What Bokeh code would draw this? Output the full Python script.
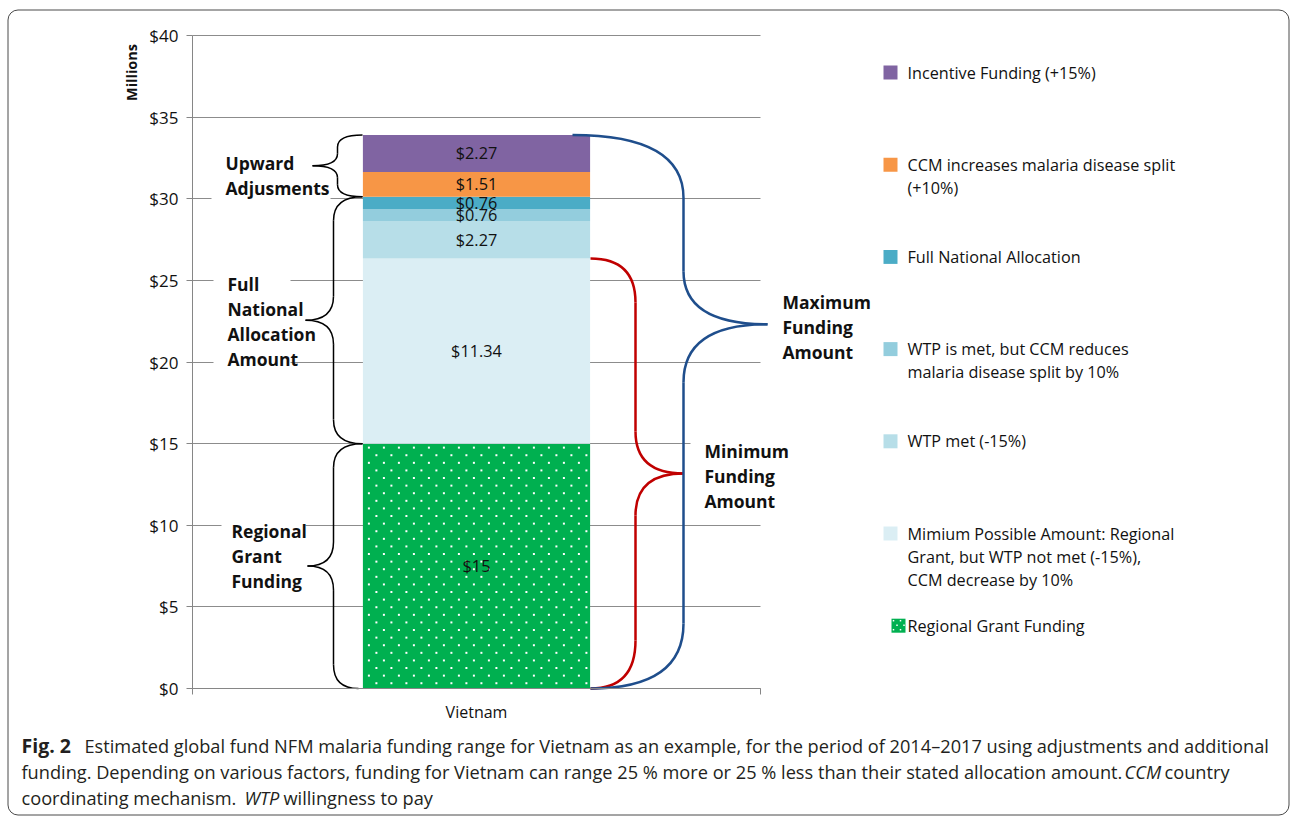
from bokeh.plotting import figure
from bokeh.models import Range1d, FixedTicker, BoxAnnotation, ColumnDataSource
from bokeh.core.properties import value
from bokeh.embed import file_html
from bokeh.resources import INLINE

# ---------------- data ----------------
category = ["Vietnam"]
segment_names = [
    "Regional Grant Funding",
    "Mimium Possible Amount: Regional\nGrant, but WTP not met (-15%),\nCCM decrease by 10%",
    "WTP met (-15%)",
    "WTP is met, but CCM reduces\nmalaria disease split by 10%",
    "Full National Allocation",
    "CCM increases malaria disease split\n(+10%)",
    "Incentive Funding (+15%)",
]
segment_values = [15, 11.34, 2.27, 0.76, 0.76, 1.51, 2.27]
segment_labels = ["$15", "$11.34", "$2.27", "$0.76", "$0.76", "$1.51", "$2.27"]
segment_colors = ["#00B050", "#DBEEF4", "#B7DEE8", "#93CDDD", "#4BACC6", "#F79646", "#8064A2"]
y_ticks = [0, 5, 10, 15, 20, 25, 30, 35, 40]
y_tick_labels = ["$0", "$5", "$10", "$15", "$20", "$25", "$30", "$35", "$40"]
y_axis_title = "Millions"

# brace annotations: (text, first segment, last segment)
brace_groups = [
    ("Upward\nAdjusments", 5, 6),
    ("Full\nNational\nAllocation\nAmount", 1, 4),
    ("Regional\nGrant\nFunding", 0, 0),
    ("Minimum\nFunding\nAmount", 0, 1),
    ("Maximum\nFunding\nAmount", 0, 6),
]

caption_lines = [
    [("Fig. 2", "bold", 21),
     ("Estimated global fund NFM malaria funding range for Vietnam as an example, for the period of 2014\u20132017 using adjustments and additional", "normal", 84)],
    [("funding. Depending on various factors, funding for Vietnam can range 25\u00a0% more or 25\u00a0% less than their stated allocation amount.", "normal", 21),
     ("CCM", "italic", 1124), ("country", "normal", 1164)],
    [("coordinating mechanism.", "normal", 21), ("WTP", "italic", 244), ("willingness to pay", "normal", 283)],
]

# ---------------- layout helpers (screen px -> data) ----------------
W, H = 1292, 816
X0, PX = 192.0, 568.0          # screen x of data 0, px per x unit
Y0, PY = 688.0, 653.0 / 40.0   # screen y of data 0, px per y unit
FONT = "Open Sans"
TXT = "#111111"


def xd(sx):
    return (sx - X0) / PX


def yd(sy):
    return (Y0 - sy) / PY


bottoms, tops = [], []
acc = 0.0
for v in segment_values:
    bottoms.append(acc)
    acc += v
    tops.append(acc)

p = figure(width=W, height=H, x_range=Range1d(xd(0), xd(W)), y_range=Range1d(yd(H), yd(0)),
           output_backend="svg", toolbar_location=None,
           min_border_left=0, min_border_right=0, min_border_top=0, min_border_bottom=0,
           outline_line_color=None, background_fill_color="white", border_fill_color="white")

# axes (drawn at data locations inside the frame)
p.xaxis.fixed_location = 0
p.xaxis.ticker = FixedTicker(ticks=[0.5], minor_ticks=[0, 1])
p.xaxis.major_label_overrides = {0.5: category[0]}
p.xaxis.bounds = (0, 1)
p.xaxis.axis_line_color = "#868686"
p.xaxis.major_tick_out = 0
p.xaxis.major_tick_in = 0
p.xaxis.minor_tick_out = 6
p.xaxis.minor_tick_in = 0
p.xaxis.minor_tick_line_color = "#868686"
p.xaxis.major_label_standoff = 6
p.xaxis.major_label_text_font = FONT
p.xaxis.major_label_text_font_size = "16px"
p.xaxis.major_label_text_color = TXT

p.yaxis.fixed_location = 0
p.yaxis.ticker = FixedTicker(ticks=y_ticks)
p.yaxis.major_label_overrides = {t: l for t, l in zip(y_ticks, y_tick_labels)}
p.yaxis.bounds = (0, 40)
p.yaxis.axis_line_color = "#868686"
p.yaxis.major_tick_line_color = "#868686"
p.yaxis.major_tick_out = 6
p.yaxis.major_tick_in = 0
p.yaxis.minor_tick_out = 0
p.yaxis.minor_tick_in = 0
p.yaxis.major_label_standoff = 8
p.yaxis.major_label_text_font = FONT
p.yaxis.major_label_text_font_size = "17px"
p.yaxis.major_label_text_color = TXT

p.xgrid.visible = False
p.ygrid.ticker = FixedTicker(ticks=y_ticks)
p.ygrid.grid_line_color = "#8C8C8C"
p.ygrid.cross_bounds = (0, 1)

# bars
src = ColumnDataSource(dict(
    x=[0.5] * len(segment_values), bottom=bottoms, top=tops, color=segment_colors,
    mid=[(b + t) / 2 for b, t in zip(bottoms, tops)], lab=segment_labels))
p.vbar(x="x", bottom="bottom", top="top", width=0.4, fill_color="color", line_color=None, source=src)


def dot_pattern(left_px, right_px, top_px, bottom_px, step=15.0, row=7.6, start=(6.0, 4.0)):
    xs, ys = [], []
    r = 0
    sy = top_px + start[1]
    while sy < bottom_px - 1:
        sx = left_px + start[0] + (step / 2 if r % 2 else 0)
        while sx < right_px - 1:
            xs.append(xd(sx))
            ys.append(yd(sy))
            sx += step
        sy += row
        r += 1
    return xs, ys


# white dot fill on the "Regional Grant Funding" segment
bl = X0 + (0.5 - 0.2) * PX
br = X0 + (0.5 + 0.2) * PX
dx, dy = dot_pattern(bl, br, Y0 - tops[0] * PY, Y0 - bottoms[0] * PY)
p.scatter(x=dx, y=dy, marker="square", size=2, fill_color="white", line_color=None)

p.text(x="x", y="mid", text="lab", text_align="center", text_baseline="middle",
       text_font=value(FONT), text_font_size="16.3px", text_color=TXT, source=src)

# white boxes behind annotation text (mask grid lines like the original text boxes)
masks = [(211, 145, 330, 206), (213, 268, 290, 372), (221, 515, 305, 540), (690, 435, 790, 512)]
p.quad(left=[xd(m[0]) for m in masks], right=[xd(m[2]) for m in masks],
       top=[yd(m[1]) for m in masks], bottom=[yd(m[3]) for m in masks],
       fill_color="white", line_color=None)

# braces: (xe_top, xe_bot, xs, xt, tip_frac, radii, color, width)
brace_geo = [
    (362, 362, 337, 312, 0.5, (12, 12, 12, 12), "#000000", 1.5),
    (362, 362, 333, 305, 0.5, (24, 24, 24, 24), "#000000", 1.5),
    (362, 358, 333, 307, 0.5, (24, 24, 24, 24), "#000000", 1.5),
    (590, 590, 635, 683, 0.5, (44, 42, 42, 48), "#C00000", 2.5),
    (572, 590, 683, 767, 0.658, (63, 53, 58, 65), "#1F4E8C", 2.5),
]
text_pos = [(225, 162), (227, 283), (231, 530), (704, 450), (782, 301)]
LINE_H = 25.3

for (txt, s0, s1), geo, (tx, ty) in zip(brace_groups, brace_geo, text_pos):
    xet, xeb, xs, xt, frac, (r1, r2, r3, r4), col, lw = geo
    ytop, ybot = tops[s1], bottoms[s0]
    ytip = ybot + (ytop - ybot) * frac
    qx0 = [xd(xet), xd(xs), xd(xt), xd(xs)]
    qy0 = [ytop, ytip + r2 / PY, ytip, ybot + r4 / PY]
    qx1 = [xd(xs), xd(xt), xd(xs), xd(xeb)]
    qy1 = [ytop - r1 / PY, ytip, ytip - r3 / PY, ybot]
    qcx = [xd(xs)] * 4
    qcy = [ytop, ytip, ytip, ybot]
    p.quadratic(x0=qx0, y0=qy0, x1=qx1, y1=qy1, cx=qcx, cy=qcy, line_color=col, line_width=lw)
    p.segment(x0=[xd(xs), xd(xs)], y0=[ytop - r1 / PY, ytip - r3 / PY],
              x1=[xd(xs), xd(xs)], y1=[ytip + r2 / PY, ybot + r4 / PY],
              line_color=col, line_width=lw)
    lines = txt.split("\n")
    p.text(x=[xd(tx)] * len(lines), y=[yd(ty + k * LINE_H) for k in range(len(lines))], text=lines,
           text_align="left", text_baseline="middle", text_font=value(FONT),
           text_font_style="bold", text_font_size="17.5px", text_color=TXT)

# legend (manual, top to bottom = reversed stack order)
order = list(range(len(segment_values)))[::-1]
for i, k in enumerate(order):
    sy = 72 + 92.2 * i
    sq_x = 898 if k == 0 else 890
    p.rect(x=[xd(sq_x)], y=[yd(sy)], width=14, height=14, width_units="screen", height_units="screen",
           fill_color=segment_colors[k], line_color=None)
    if k == 0:
        lx, ly = dot_pattern(sq_x - 7, sq_x + 7, sy - 7, sy + 7, step=7.0, row=4.5, start=(2.0, 2.0))
        p.scatter(x=lx, y=ly, marker="square", size=1.5, fill_color="white", line_color=None)
    lines = segment_names[k].split("\n")
    p.text(x=[xd(907)] * len(lines), y=[yd(sy + 23 * j) for j in range(len(lines))], text=lines,
           text_align="left", text_baseline="middle", text_font=value(FONT),
           text_font_size="16.2px", text_color=TXT)

# y axis title (rotated, at top)
p.text(x=[xd(131)], y=[yd(72)], text=[y_axis_title], angle=1.5707963, text_align="center",
       text_baseline="middle", text_font=value(FONT), text_font_style="bold",
       text_font_size="14.5px", text_color=TXT)

# caption
for li, pieces in enumerate(caption_lines):
    sy = 745 + 26.3 * li
    for txt, style, sx in pieces:
        p.text(x=[xd(sx)], y=[yd(sy)], text=[txt], text_align="left", text_baseline="middle",
               text_font=value(FONT), text_font_style=style,
               text_font_size="19.5px" if style == "bold" else "18.2px",
               text_color="#231F20")

# outer rounded border
p.add_layout(BoxAnnotation(left=xd(7.5), right=xd(1288.5), top=yd(9.5), bottom=yd(814.5),
                           fill_color=None, fill_alpha=0, line_color="#4A4A4A", line_alpha=1.0,
                           line_width=1, border_radius=10))

open("out.html", "w").write(file_html(p, INLINE))
